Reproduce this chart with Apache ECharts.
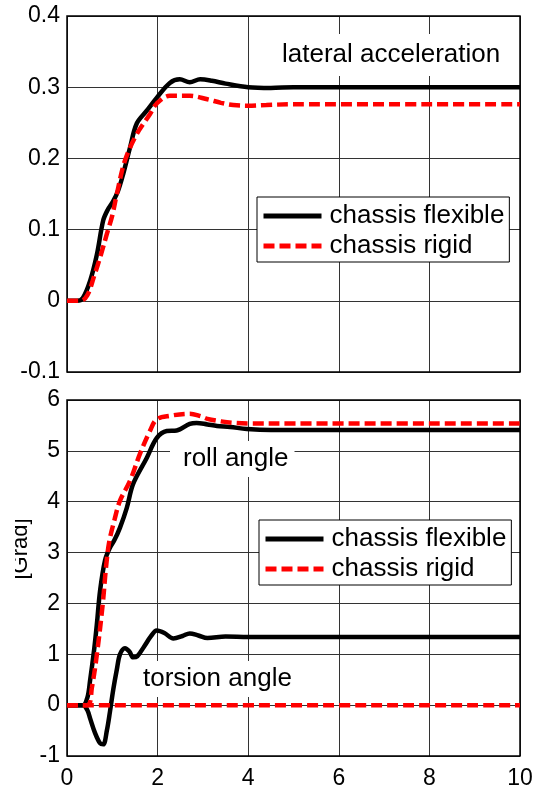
<!DOCTYPE html>
<html>
<head>
<meta charset="utf-8">
<script src="https://cdn.jsdelivr.net/npm/echarts@6/dist/echarts.min.js"></script>
<style>
  html, body { margin: 0; padding: 0; background: #fff; }
  #chart { width: 539px; height: 790px; }
</style>
</head>
<body>
<div id="chart"></div>
<script>
// time axis ticks
var xTicks = [0, 2, 4, 6, 8, 10];

// upper panel: lateral acceleration
var latFlexT = [0, 0.22, 0.35, 0.51, 0.66, 0.8, 0.9, 1.02, 1.13, 1.24, 1.39, 1.54, 1.76, 1.98, 2.27, 2.49, 2.71, 2.94, 3.2, 3.5, 4.0, 4.5, 5, 10];
var latFlexV = [0, 0, 0.004, 0.028, 0.065, 0.113, 0.128, 0.14, 0.155, 0.178, 0.215, 0.249, 0.267, 0.285, 0.306, 0.311, 0.307, 0.311, 0.309, 0.305, 0.300, 0.299, 0.300, 0.300];
var latRigidT = [0, 0.3, 0.45, 0.6, 0.75, 0.88, 1.0, 1.1, 1.28, 1.54, 1.83, 1.98, 2.27, 2.71, 3.1, 3.4, 3.67, 4.0, 4.4, 5, 10];
var latRigidV = [0, 0, 0.008, 0.035, 0.065, 0.094, 0.12, 0.15, 0.197, 0.234, 0.262, 0.277, 0.288, 0.288, 0.283, 0.278, 0.275, 0.274, 0.275, 0.276, 0.276];

// lower panel: roll angle and torsion angle [Grad]
var rollFlexT = [0, 0.35, 0.45, 0.51, 0.6, 0.66, 0.73, 0.84, 0.95, 1.05, 1.17, 1.32, 1.46, 1.76, 1.98, 2.2, 2.42, 2.71, 2.86, 3.1, 3.31, 3.6, 3.97, 4.5, 5, 10];
var rollFlexV = [0, 0, 0.15, 0.49, 1.1, 1.6, 2.25, 2.85, 3.1, 3.25, 3.49, 3.88, 4.35, 4.86, 5.25, 5.39, 5.4, 5.53, 5.55, 5.52, 5.49, 5.47, 5.43, 5.41, 5.41, 5.41];
var rollRigidT = [0, 0.45, 0.55, 0.66, 0.79, 0.86, 0.93, 1.05, 1.17, 1.39, 1.61, 1.83, 1.98, 2.27, 2.71, 2.95, 3.1, 3.4, 3.67, 4.0, 5, 10];
var rollRigidV = [0, 0, 0.35, 1.0, 2.0, 2.7, 3.2, 3.65, 4.02, 4.41, 4.94, 5.39, 5.62, 5.69, 5.73, 5.68, 5.63, 5.58, 5.55, 5.54, 5.54, 5.54];
var torsFlexT = [0, 0.35, 0.45, 0.51, 0.62, 0.73, 0.8, 0.88, 0.95, 1.02, 1.1, 1.17, 1.28, 1.38, 1.46, 1.55, 1.7, 1.85, 1.98, 2.15, 2.35, 2.55, 2.71, 2.9, 3.1, 3.5, 4, 10];
var torsFlexV = [0, 0, -0.1, -0.26, -0.55, -0.75, -0.77, -0.5, -0.12, 0.3, 0.7, 1.0, 1.12, 1.05, 0.94, 0.96, 1.15, 1.35, 1.47, 1.42, 1.31, 1.36, 1.41, 1.37, 1.32, 1.35, 1.34, 1.34];
var torsRigidT = [0, 10];
var torsRigidV = [0, 0];

var FONT = 'Liberation Sans, Arial, sans-serif';

function pairs(t, v) {
    return t.map(function (x, i) { return [x, v[i]]; });
}

var flexLine = { color: '#000', width: 4.5 };
var rigidLine = { color: '#ff0000', width: 4.5, type: [11, 5] };

function xAxis(idx, labels) {
    return {
        type: 'value', gridIndex: idx,
        min: xTicks[0], max: xTicks[xTicks.length - 1], interval: 2,
        axisLine: { show: false },
        axisTick: { show: false },
        axisLabel: { show: labels, color: '#000', fontSize: 23, fontFamily: FONT, margin: 11 },
        splitLine: { show: true, lineStyle: { color: '#333', width: 1 } }
    };
}

function yAxis(idx, min, max, step) {
    return {
        type: 'value', gridIndex: idx,
        min: min, max: max, interval: step,
        axisLine: { show: false },
        axisTick: { show: false },
        axisLabel: { color: '#000', fontSize: 23, fontFamily: FONT, margin: 7 },
        splitLine: { show: true, lineStyle: { color: '#333', width: 1 } }
    };
}

function legend(left, top) {
    return {
        orient: 'vertical', left: left, top: top,
        data: ['chassis flexible', 'chassis rigid'],
        backgroundColor: '#fff', borderColor: '#000', borderWidth: 1,
        padding: [6, 5, 3, 4], itemGap: 4,
        itemWidth: 58, itemHeight: 14,
        itemStyle: { opacity: 0 },
        lineStyle: { width: 5 },
        textStyle: { color: '#000', fontSize: 26, fontFamily: FONT, padding: [0, 0, 0, 3] },
        selectedMode: false
    };
}

function label(text, left, top, pad) {
    return {
        text: text, left: left, top: top,
        backgroundColor: '#fff', padding: pad,
        textStyle: { color: '#000', fontSize: 26, fontWeight: 'normal', fontFamily: FONT }
    };
}

var chart = echarts.init(document.getElementById('chart'));
chart.setOption({
    animation: false,
    backgroundColor: '#fff',
    grid: [
        { left: 67, top: 16, width: 453, height: 356, show: true, borderColor: '#000', borderWidth: 1.5, z: 3 },
        { left: 67, top: 400, width: 453, height: 357, show: true, borderColor: '#000', borderWidth: 1.5, z: 3 }
    ],
    xAxis: [xAxis(0, false), xAxis(1, true)],
    yAxis: [yAxis(0, -0.1, 0.4, 0.1), yAxis(1, -1, 6, 1)],
    title: [
        label('lateral acceleration', 278, 34, [8, 5, 8, 4]),
        label('roll angle', 170, 441, [5, 6, 5, 13]),
        label('torsion angle', 135, 661, [5, 5, 5, 8])
    ],
    legend: [legend(257, 197), legend(259, 520)],
    graphic: [{
        type: 'text', x: 21, y: 549, rotation: Math.PI / 2,
        style: { text: '[Grad]', font: '22px ' + FONT, fill: '#000', textAlign: 'center', textVerticalAlign: 'middle' }
    }, {
        type: 'rect', shape: { x: 0, y: 500, width: 15, height: 100 },
        style: { fill: '#fff' }, z: 200
    }],
    series: [
        { name: 'chassis flexible', type: 'line', xAxisIndex: 0, yAxisIndex: 0, symbol: 'none', smooth: 0.35, lineStyle: flexLine, itemStyle: { color: '#000' }, z: 3, data: pairs(latFlexT, latFlexV) },
        { name: 'chassis rigid', type: 'line', xAxisIndex: 0, yAxisIndex: 0, symbol: 'none', smooth: 0.35, lineStyle: rigidLine, itemStyle: { color: '#ff0000' }, z: 4, data: pairs(latRigidT, latRigidV) },
        { name: 'chassis flexible', type: 'line', xAxisIndex: 1, yAxisIndex: 1, symbol: 'none', smooth: 0.35, lineStyle: flexLine, itemStyle: { color: '#000' }, z: 3, data: pairs(rollFlexT, rollFlexV) },
        { name: 'chassis rigid', type: 'line', xAxisIndex: 1, yAxisIndex: 1, symbol: 'none', smooth: 0.35, lineStyle: rigidLine, itemStyle: { color: '#ff0000' }, z: 4, data: pairs(rollRigidT, rollRigidV) },
        { name: 'chassis flexible', type: 'line', xAxisIndex: 1, yAxisIndex: 1, symbol: 'none', smooth: 0.35, lineStyle: flexLine, itemStyle: { color: '#000' }, z: 3, data: pairs(torsFlexT, torsFlexV) },
        { name: 'chassis rigid', type: 'line', xAxisIndex: 1, yAxisIndex: 1, symbol: 'none', smooth: 0.35, lineStyle: rigidLine, itemStyle: { color: '#ff0000' }, z: 4, data: pairs(torsRigidT, torsRigidV) }
    ]
});
</script>
</body>
</html>
